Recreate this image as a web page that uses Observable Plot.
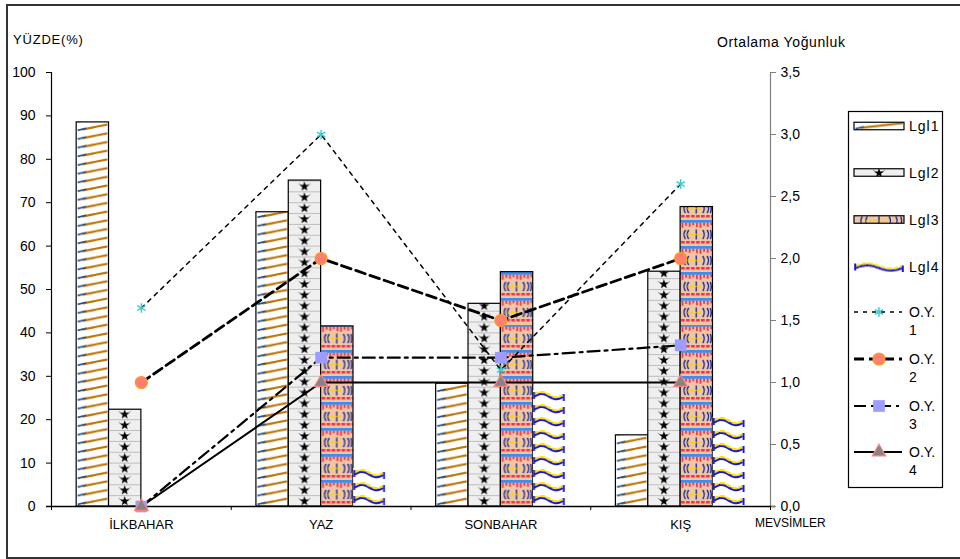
<!DOCTYPE html>
<html>
<head>
<meta charset="utf-8">
<script src="https://cdn.jsdelivr.net/npm/d3@7"></script>
<script src="https://cdn.jsdelivr.net/npm/@observablehq/plot@0.6"></script>
<style>
  html, body { margin: 0; padding: 0; background: #fff; }
  #chart svg { display: block; }
</style>
</head>
<body>
<div id="chart"></div>
<script>
// Seasons on the category axis
const seasons = ["İLKBAHAR", "YAZ", "SONBAHAR", "KIŞ"];

// Percentages (left axis, YÜZDE %)
const lgl1 = [88.5, 67.8, 28.3, 16.4];
const lgl2 = [22.3, 75.1, 46.7, 54.1];
const lgl3 = [0, 41.5, 54.0, 69.0];
const lgl4 = [0, 8.8, 26.7, 20.6];
const barNames = ["Lgl1", "Lgl2", "Lgl3", "Lgl4"];

// Average density (right axis, Ortalama Yoğunluk)
const oy1 = [1.6, 3.0, 1.1, 2.6];
const oy2 = [1.0, 2.0, 1.5, 2.0];
const oy3 = [0, 1.2, 1.2, 1.3];
const oy4 = [0, 1.0, 1.0, 1.0];
const lineNames = ["O.Y. 1", "O.Y. 2", "O.Y. 3", "O.Y. 4"];

// Axis ticks
const leftTicks = [0, 10, 20, 30, 40, 50, 60, 70, 80, 90, 100];
const rightTicks = [0, 0.5, 1, 1.5, 2, 2.5, 3, 3.5];
const rightMax = 3.5;

// Right axis values are placed on the shared y scale (0–100)
const toLeft = v => v * 100 / rightMax;

const barSeries = [lgl1, lgl2, lgl3, lgl4];
const lineSeries = [oy1, oy2, oy3, oy4];

const barW = 0.18; // bar width in category units
const bars = barSeries.flatMap((vals, j) =>
  vals.map((v, i) => ({season: seasons[i], i, j, value: v})));

const lineStyles = [
  {strokeWidth: 1.5, strokeDasharray: "4,5"},
  {strokeWidth: 2.8, strokeDasharray: "10,5"},
  {strokeWidth: 2.2, strokeDasharray: "12,5,3,5"},
  {strokeWidth: 2, strokeDasharray: null}
];
const markerStyles = [
  {symbol: "asterisk", r: 4.5, fill: "none", stroke: "#33cccc", strokeWidth: 1.4},
  {symbol: "circle", r: 6, fill: "#ff8070", stroke: "#ff9a1a", strokeWidth: 1.2},
  {symbol: "square", r: 6.6, fill: "#9d9dff", stroke: "none", strokeWidth: 0},
  {symbol: "triangle", r: 5, fill: "#858585", stroke: "#ff8080", strokeWidth: 1.2}
];

const lineData = lineSeries.map((vals, k) => vals.map((v, i) => ({i, k, v})));

const font = "Arial, 'Liberation Sans', sans-serif";

const chart = Plot.plot({
  width: 960,
  height: 559,
  marginLeft: 51,
  marginRight: 190,
  marginTop: 72,
  marginBottom: 53,
  style: {fontFamily: font, fontSize: "13px", background: "#fff", color: "#000", overflow: "visible"},
  x: {type: "linear", domain: [-0.5, 3.5]},
  y: {domain: [0, 100]},
  marks: [
    // grouped bars, one mark per series so each gets its own pattern
    ...barNames.map((name, j) => Plot.rect(bars.filter(d => d.j === j), {
      x1: d => d.i + (d.j - 2) * barW,
      x2: d => d.i + (d.j - 1) * barW,
      y1: d => 0,
      y2: "value",
      fill: `url(#bar-${j})`,
      stroke: j === 3 ? "none" : "#000",
      strokeWidth: 1.2
    })),
    // axis lines
    Plot.ruleX([-0.5], {y1: 0, y2: 100, stroke: "#000", strokeWidth: 1.2}),
    Plot.ruleX([3.5], {y1: 0, y2: 100, stroke: "#808080", strokeWidth: 1.2}),
    Plot.ruleY([0], {stroke: "#000", strokeWidth: 1.4, insetLeft: -5, insetRight: -5}),
    Plot.axisY({ticks: leftTicks, tickSize: 5, tickPadding: 11, label: null, fontSize: 14, stroke: "#000"}),
    Plot.axisY({
      anchor: "right", ticks: rightTicks.map(toLeft), tickSize: 5, tickPadding: 5, label: null,
      fontSize: 14, stroke: "#808080", fill: "#000",
      tickFormat: v => (v * rightMax / 100).toFixed(1).replace(".", ",")
    }),
    Plot.axisX({ticks: [0, 1, 2, 3], tickFormat: i => seasons[i], tickSize: 0, tickPadding: 13, label: null, fontSize: 13}),
    Plot.axisX({ticks: [-0.5, 0.5, 1.5, 2.5, 3.5], tickFormat: () => "", tickSize: 4, label: null, stroke: "#000"}),
    // density lines on top of the bars
    ...lineData.map((data, k) => Plot.line(data, {
      x: "i", y: d => toLeft(d.v), stroke: "#000", ...lineStyles[k]
    })),
    ...lineData.map((data, k) => Plot.dot(data, {
      x: "i", y: d => toLeft(d.v), ...markerStyles[k]
    }))
  ]
});

document.getElementById("chart").appendChild(chart);

// ---- fill patterns ----
const svg = d3.select(chart);
const defs = svg.insert("defs", ":first-child");
const xs = chart.scale("x").apply;
const ys = chart.scale("y").apply;

const tileH = [8.7, 10.85, 26, 13];

function starPath(cx, cy, ro, ri) {
  let d = "";
  for (let k = 0; k < 10; k++) {
    const a = -Math.PI / 2 + k * Math.PI / 5;
    const r = k % 2 ? ri : ro;
    d += (k ? "L" : "M") + (cx + r * Math.cos(a)).toFixed(2) + "," + (cy + r * Math.sin(a)).toFixed(2);
  }
  return d + "Z";
}

function makeTile(id, kind, x0, y0, tw, bx, bw) {
  const H = tileH[kind];
  const p = defs.append("pattern")
    .attr("id", id)
    .attr("patternUnits", "userSpaceOnUse")
    .attr("x", x0).attr("y", y0)
    .attr("width", tw).attr("height", H);
  if (kind === 0) {
    p.append("rect").attr("x", bx).attr("y", 0).attr("width", bw).attr("height", H).attr("fill", "#fff");
    p.append("path").attr("d", `M${bx + 7},${H - 2.6}L${bx + bw - 2},${1.5}`)
      .attr("stroke", "#bd7305").attr("stroke-width", 2.2).attr("stroke-linecap", "round")
      .attr("stroke-dasharray", `${bw * 0.35},1.5,${bw},0`);
    p.append("path").attr("d", `M${bx + 1.5},${H - 1.6}L${bx + 10},${H - 3.6}`)
      .attr("stroke", "#1f4f88").attr("stroke-width", 1.6);
  } else if (kind === 1) {
    p.append("rect").attr("x", bx).attr("y", 0).attr("width", bw).attr("height", H).attr("fill", "#efefef");
    p.append("line").attr("x1", bx).attr("x2", bx + bw).attr("y1", 0.4).attr("y2", 0.4)
      .attr("stroke", "#a9a9a9").attr("stroke-width", 0.8);
    const cx = bx + bw / 2, cy = H / 2 + 0.6;
    p.append("path").attr("d", `M${cx - 6},${cy - 3}L${cx - 2},${cy}M${cx + 6},${cy - 3}L${cx + 2},${cy}`)
      .attr("stroke", "#777").attr("stroke-width", 0.8);
    p.append("path").attr("d", starPath(cx, cy, 5, 2.1)).attr("fill", "#000");
  } else if (kind === 2) {
    p.append("rect").attr("x", bx).attr("y", 0).attr("width", bw).attr("height", H).attr("fill", "#f1c6a3");
    p.append("rect").attr("x", bx).attr("y", 0).attr("width", bw).attr("height", 2.8).attr("fill", "#3a8ef2");
    const drips = [5, 3, 4, 2.5, 4.5];
    let d = "";
    for (let k = 0, x = bx + 1.5; x < bx + bw - 1; x += 3.6, k++) {
      d += `M${x.toFixed(2)},2.8h1.8v${drips[k % drips.length]}h-1.8Z`;
    }
    for (let x = bx + 1; x < bx + bw - 1; x += 5) d += `M${x.toFixed(2)},21h3.6v2.6h-3.6Z`;
    p.append("path").attr("d", d).attr("fill", "#f3304f");
    const s = bw / 30;
    const g = `M${bx + 5 * s},10q-3,4.5 0,9 M${bx + 8 * s},10q-3,4.5 0,9 M${bx + 15 * s},9.5v10 ` +
      `M${bx + 21 * s},10q3,4.5 0,9 M${bx + 25 * s},10q3,4.5 0,9 M${bx + 28 * s},10q2,4.5 0,9`;
    p.append("path").attr("d", g).attr("fill", "none").attr("stroke", "#1c2c9c").attr("stroke-width", 1.4);
    p.append("line").attr("x1", bx + 7 * s).attr("x2", bx + 20 * s).attr("y1", 14.5).attr("y2", 14.5)
      .attr("stroke", "#f2d200").attr("stroke-width", 1.3).attr("stroke-dasharray", "2,1.5");
  } else {
    p.append("rect").attr("x", bx).attr("y", 0).attr("width", bw).attr("height", H).attr("fill", "#fff");
    let d = "";
    for (let t = 0; t <= bw - 3; t += 1.5) {
      const y = 6.5 - 2.6 * Math.sin((t / (bw - 3)) * 2 * Math.PI);
      d += (t ? "L" : "M") + (bx + 1.5 + t).toFixed(2) + "," + y.toFixed(2);
    }
    p.append("path").attr("d", d).attr("fill", "none").attr("stroke", "#1414dc").attr("stroke-width", 2.4)
      .attr("transform", "translate(0,0.9)");
    p.append("path").attr("d", d).attr("fill", "none").attr("stroke", "#ffe000").attr("stroke-width", 2.2)
      .attr("stroke-dasharray", "5,1.5").attr("transform", "translate(0,-0.9)");
    p.append("path").attr("d", `M${bx + 1.2},3v7M${bx + bw - 1.2},5v7`)
      .attr("stroke", "#1414dc").attr("stroke-width", 2);
  }
}

const x0 = xs(-0.5);
const band = xs(0.5) - xs(-0.5);
barNames.forEach((name, j) => {
  const bx = xs((j - 2) * barW) - x0;
  const bw = xs((j - 1) * barW) - xs((j - 2) * barW);
  makeTile(`bar-${j}`, j, x0, ys(0), band, bx, bw);
});

// ---- titles ----
const txt = (x, y, s, size, extra = {}) => {
  const t = svg.append("text").attr("x", x).attr("y", y).attr("font-family", font)
    .attr("font-size", size).attr("fill", "#000").attr("text-anchor", "start").text(s);
  Object.entries(extra).forEach(([k, v]) => t.attr(k, v));
  return t;
};
txt(13, 44, "YÜZDE(%)", 13, {"letter-spacing": "0.8"});
txt(717, 47, "Ortalama Yoğunluk", 14, {"letter-spacing": "0.6"});
txt(755, 527, "MEVSİMLER", 12);

// ---- legend ----
const leg = svg.append("g");
leg.append("rect").attr("x", 848.5).attr("y", 111.5).attr("width", 94).attr("height", 376)
  .attr("fill", "#fff").attr("stroke", "#000").attr("stroke-width", 1.2);
const sx = 854, sw = 50;
const barRows = [126, 172.5, 219.5, 267];
barNames.forEach((name, j) => {
  const cy = barRows[j];
  const h = j === 3 ? 10 : 7.5;
  const top = cy - h / 2;
  makeTile(`leg-${j}`, j, sx, j === 3 ? top - 1.5 : cy - tileH[j] / 2, sw, 0, sw);
  leg.append("rect").attr("x", sx).attr("y", top).attr("width", sw).attr("height", h)
    .attr("fill", `url(#leg-${j})`).attr("stroke", j === 3 ? "none" : "#000").attr("stroke-width", 1.2);
  txt(909, cy + 5, name, 14, {"letter-spacing": "1"});
});
const lineRows = [312, 359, 406, 452];
lineNames.forEach((name, k) => {
  const cy = lineRows[k];
  const ls = lineStyles[k];
  leg.append("line").attr("x1", sx).attr("x2", sx + sw - 2).attr("y1", cy).attr("y2", cy)
    .attr("stroke", "#000").attr("stroke-width", ls.strokeWidth)
    .attr("stroke-dasharray", ls.strokeDasharray);
  const m = markerStyles[k];
  const sym = {asterisk: d3.symbolAsterisk, circle: d3.symbolCircle, square: d3.symbolSquare, triangle: d3.symbolTriangle}[m.symbol];
  leg.append("path").attr("transform", `translate(${sx + 25},${cy})`)
    .attr("d", d3.symbol(sym, Math.PI * m.r * m.r)())
    .attr("fill", m.fill).attr("stroke", m.stroke).attr("stroke-width", m.strokeWidth);
  const [a, b] = name.split(" ");
  txt(909, cy + 5, a, 14);
  txt(909, cy + 23, b, 14);
});

// outer frame
svg.append("rect").attr("x", 7).attr("y", 5).attr("width", 960).attr("height", 553)
  .attr("fill", "none").attr("stroke", "#333").attr("stroke-width", 2);
</script>
</body>
</html>
